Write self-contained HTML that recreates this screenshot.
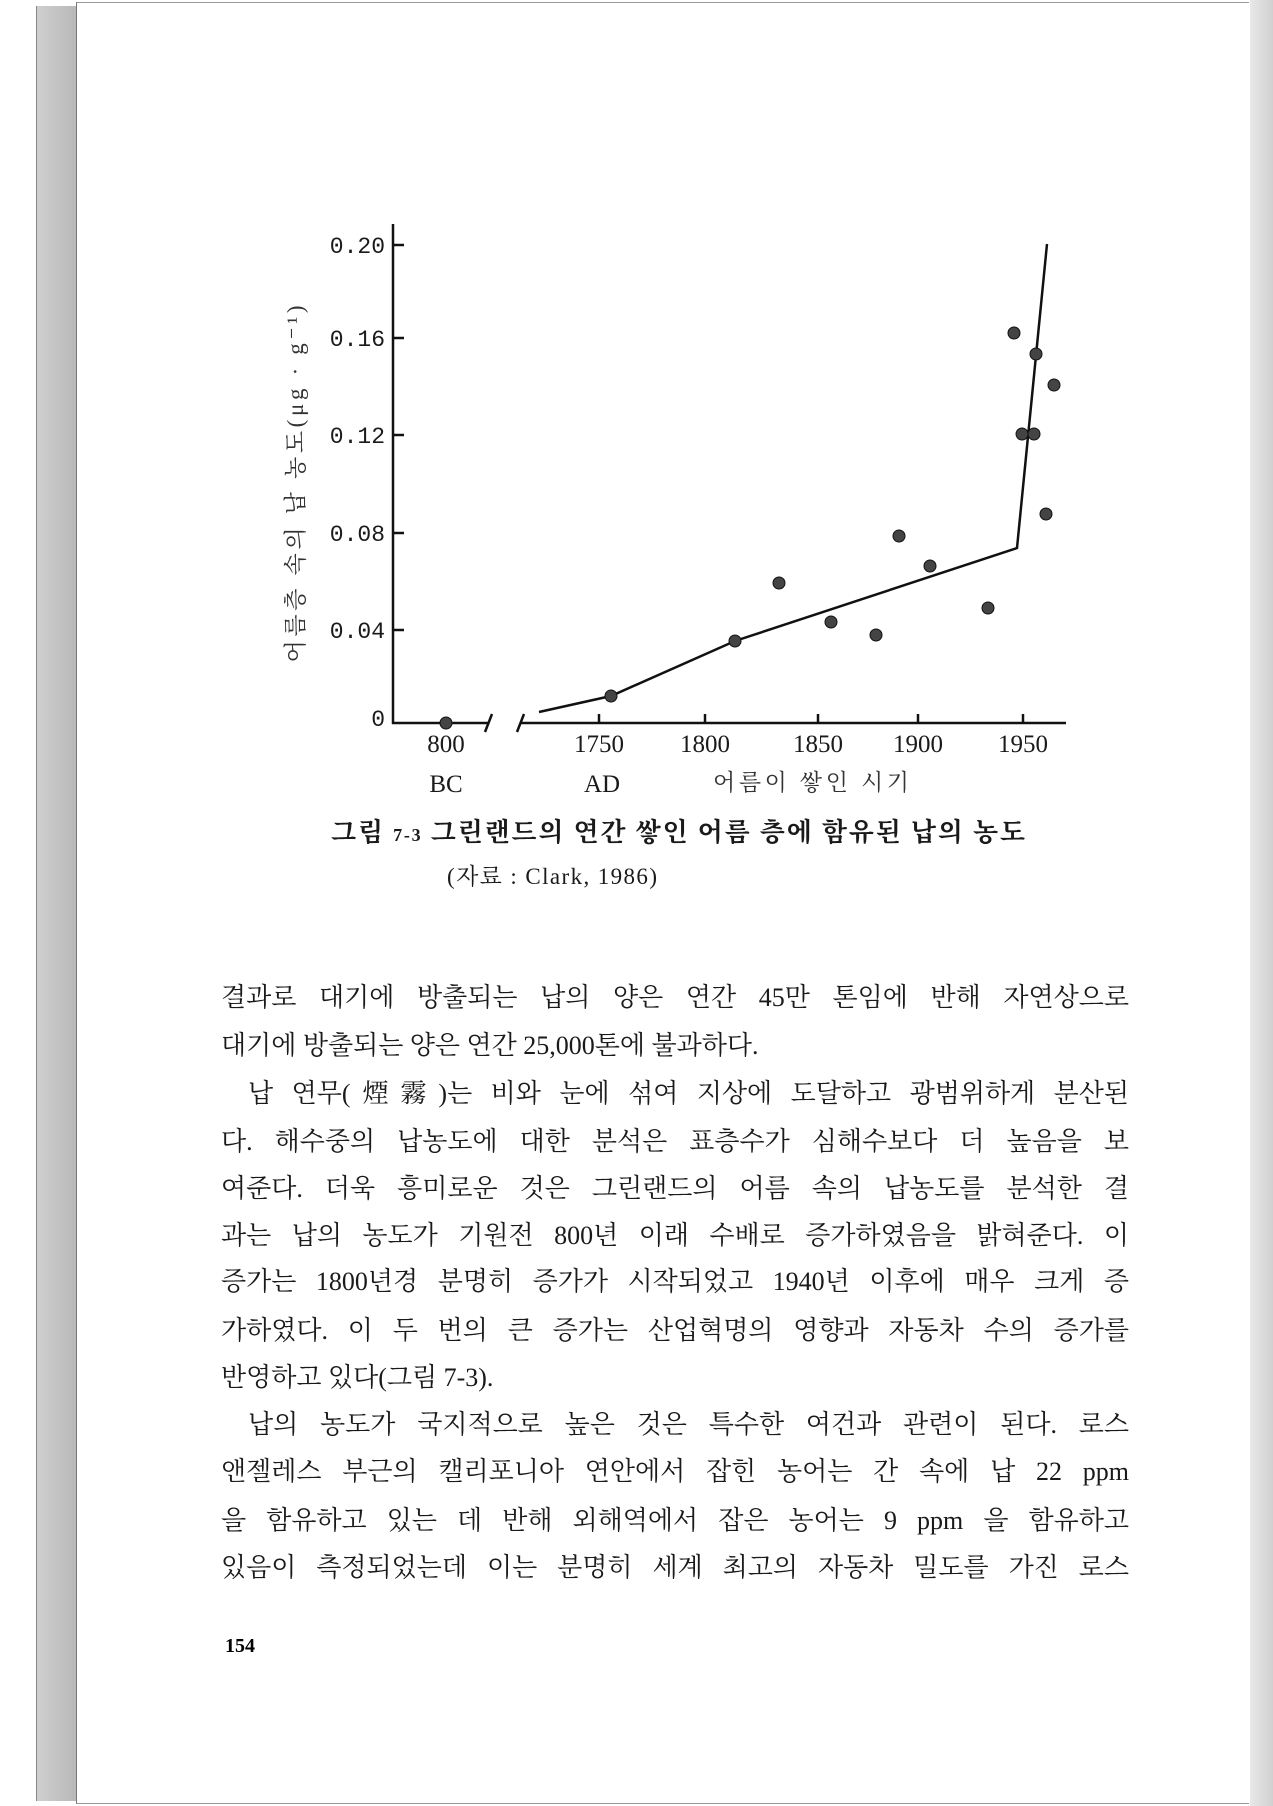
<!DOCTYPE html>
<html><head><meta charset="utf-8"><style>
html,body{margin:0;padding:0;}
body{width:1273px;height:1806px;position:relative;background:#fff;overflow:hidden;font-family:"Liberation Serif","Noto Serif CJK KR","Noto Serif CJK SC",serif;color:#1a1a1a;}
.edge{position:absolute;left:36px;top:6px;width:40px;height:1795px;background:linear-gradient(90deg,#cfcfcf,#b8b8b8);border-left:1px solid #888;}
.page{position:absolute;left:76px;top:2px;width:1172px;height:1800px;background:#fff;border-top:1px solid #999;border-bottom:1px solid #999;border-left:1px solid #777;}
.rshadow{position:absolute;left:1250px;top:0;width:23px;height:1806px;background:linear-gradient(90deg,#e8e8e8,#d0d0d0);}
.ln{position:absolute;left:221px;width:908px;font-size:26px;white-space:nowrap;text-align:justify;text-align-last:justify;line-height:30px;}
.ln.l{text-align-last:left;}
</style></head><body>
<div class="edge"></div><div class="page"></div><div class="rshadow"></div>
<svg width="1273" height="1806" style="position:absolute;left:0;top:0" font-family="Liberation Serif, Noto Serif CJK KR, serif">
<g stroke="#111" stroke-width="2.5" fill="none">
<line x1="393" y1="224" x2="393" y2="724"/>
<line x1="392" y1="723" x2="488" y2="723"/>
<line x1="521" y1="723" x2="1066" y2="723"/>
<line x1="485" y1="732" x2="492" y2="714"/>
<line x1="517" y1="732" x2="524" y2="714"/>
<line x1="393" y1="245" x2="404" y2="245"/><line x1="393" y1="338" x2="404" y2="338"/>
<line x1="393" y1="435" x2="404" y2="435"/><line x1="393" y1="533" x2="404" y2="533"/>
<line x1="393" y1="630" x2="404" y2="630"/>
<line x1="599" y1="723" x2="599" y2="714"/><line x1="705" y1="723" x2="705" y2="714"/>
<line x1="818" y1="723" x2="818" y2="714"/><line x1="918" y1="723" x2="918" y2="714"/>
<line x1="1023" y1="723" x2="1023" y2="714"/>
<polyline points="539,712 611,696 735,641 1017,548 1047,244"/>
</g>
<g fill="#444" stroke="#111" stroke-width="1">
<circle cx="446" cy="723" r="6"/><circle cx="611" cy="696" r="6"/><circle cx="735" cy="641" r="6"/>
<circle cx="779" cy="583" r="6"/><circle cx="831" cy="622" r="6"/><circle cx="876" cy="635" r="6"/>
<circle cx="899" cy="536" r="6"/><circle cx="930" cy="566" r="6"/><circle cx="988" cy="608" r="6"/>
<circle cx="1014" cy="333" r="6"/><circle cx="1022" cy="434" r="6"/><circle cx="1034" cy="434" r="6"/>
<circle cx="1036" cy="354" r="6"/><circle cx="1054" cy="385" r="6"/><circle cx="1046" cy="514" r="6"/>
</g>
<g font-size="23" fill="#1a1a1a" text-anchor="end" font-family="Liberation Mono, monospace">
<text x="385" y="253">0.20</text><text x="385" y="346">0.16</text><text x="385" y="443">0.12</text>
<text x="385" y="541">0.08</text><text x="385" y="638">0.04</text><text x="385" y="726">0</text>
</g>
<g font-size="25" fill="#1a1a1a" text-anchor="middle">
<text x="446" y="752">800</text><text x="599" y="752">1750</text><text x="705" y="752">1800</text>
<text x="818" y="752">1850</text><text x="918" y="752">1900</text><text x="1023" y="752">1950</text>
<text x="446" y="792">BC</text><text x="602" y="792">AD</text>
</g>
<text x="713" y="790" font-size="23" fill="#333" textLength="196">어름이 쌓인 시기</text>
<text transform="translate(303,484) rotate(-90)" text-anchor="middle" font-size="23" fill="#333" textLength="357">어름층 속의 납 농도(μg · g⁻¹)</text>
<text x="331" y="841" font-size="26" font-weight="bold" fill="#1a1a1a" textLength="694">그림 <tspan font-size="18">7-3</tspan>  그린랜드의 연간 쌓인 어름 층에 함유된 납의 농도</text>
<text x="447" y="884" font-size="23" fill="#1a1a1a" textLength="210">(자료 : Clark, 1986)</text>
<text x="225" y="1652" font-size="20" font-weight="bold">154</text>
</svg>
<div class="ln" style="top:983px">결과로 대기에 방출되는 납의 양은 연간 45만 톤임에 반해 자연상으로</div>
<div class="ln l" style="top:1031px">대기에 방출되는 양은 연간 25,000톤에 불과하다.</div>
<div class="ln" style="top:1079px;left:248px;width:881px">납 연무(煙霧)는 비와 눈에 섞여 지상에 도달하고 광범위하게 분산된</div>
<div class="ln" style="top:1127px">다. 해수중의 납농도에 대한 분석은 표층수가 심해수보다 더 높음을 보</div>
<div class="ln" style="top:1174px">여준다. 더욱 흥미로운 것은 그린랜드의 어름 속의 납농도를 분석한 결</div>
<div class="ln" style="top:1221px">과는 납의 농도가 기원전 800년 이래 수배로 증가하였음을 밝혀준다. 이</div>
<div class="ln" style="top:1267px">증가는 1800년경 분명히 증가가 시작되었고 1940년 이후에 매우 크게 증</div>
<div class="ln" style="top:1316px">가하였다. 이 두 번의 큰 증가는 산업혁명의 영향과 자동차 수의 증가를</div>
<div class="ln l" style="top:1363px">반영하고 있다(그림 7-3).</div>
<div class="ln" style="top:1410px;left:248px;width:881px">납의 농도가 국지적으로 높은 것은 특수한 여건과 관련이 된다. 로스</div>
<div class="ln" style="top:1457px">앤젤레스 부근의 캘리포니아 연안에서 잡힌 농어는 간 속에 납 22 ppm</div>
<div class="ln" style="top:1506px">을 함유하고 있는 데 반해 외해역에서 잡은 농어는 9 ppm 을 함유하고</div>
<div class="ln" style="top:1553px">있음이 측정되었는데 이는 분명히 세계 최고의 자동차 밀도를 가진 로스</div>
</body></html>
